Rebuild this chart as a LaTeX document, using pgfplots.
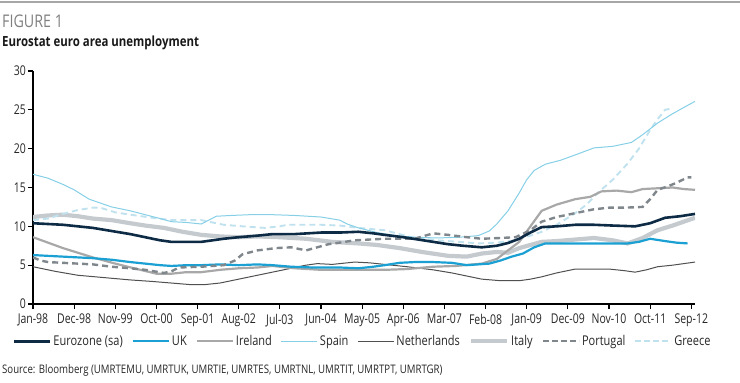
\documentclass[border=0pt]{standalone}
\usepackage{fontspec}
\setmainfont{Open Sans}[FakeStretch=0.82]
\newfontfamily\condfont{Open Sans}[FakeStretch=0.78]
\usepackage{pgfplots}
\pgfplotsset{compat=1.18}
\definecolor{cEZ}{HTML}{0D2B45}
\definecolor{cUK}{HTML}{1AA0D2}
\definecolor{cIE}{HTML}{A8A8A8}
\definecolor{cES}{HTML}{86CFE6}
\definecolor{cNL}{HTML}{505050}
\definecolor{cIT}{HTML}{C5CACF}
\definecolor{cPT}{HTML}{80878C}
\definecolor{cGR}{HTML}{C0E2EE}
\begin{document}
\begin{tikzpicture}[x=1bp,y=1bp]
\useasboundingbox (0,0) rectangle (740,382);
\draw[line width=2bp, color=black!35] (0,380) -- (740,380);
\node[anchor=west, inner sep=0pt, text=black!50, font=\fontsize{17.5}{19}\selectfont] at (2,361) {FIGURE 1};
\node[anchor=west, inner sep=0pt, text=black!90, font=\bfseries\fontsize{14}{16}\selectfont] at (2,339) {Eurostat euro area unemployment};
\begin{axis}[
  at={(33bp,78bp)}, anchor=south west,
  scale only axis, width=662bp, height=233bp,
  xmin=0, xmax=177, ymin=0, ymax=30,
  axis x line*=bottom, axis y line*=left,
  axis line style={line width=2bp, black, -},
  tick align=outside, major tick length=5bp,
  tick style={line width=1.2bp, black},
  xtick={0,11,...,176},
  xticklabels={Jan-98,Dec-98,Nov-99,Oct-00,Sep-01,Aug-02,Jul-03,Jun-04,May-05,Apr-06,Mar-07,Feb-08,Jan-09,Dec-09,Nov-10,Oct-11,Sep-12},
  ytick={0,5,...,30},
  /pgf/number format/assume math mode=true,
  ticklabel style={font=\condfont\fontsize{13.5}{15}\selectfont, text=black!85},
  xticklabel style={inner sep=1pt, yshift=-4bp},
  yticklabel style={inner sep=2pt},
  legend columns=8,
  legend style={draw=none, fill=none, at={(0.498,-0.16)}, anchor=center,
    font=\fontsize{13.5}{15}\selectfont, text=black!85,
    /tikz/every even column/.append style={column sep=7bp},
    /tikz/every odd column/.append style={column sep=0bp}},
  legend image code/.code={\draw[#1] (0bp,0bp) -- (36bp,0bp);},
  legend cell align=left,
]
% Italy (background)
\addplot[cIT, line width=4.2bp, forget plot] coordinates {
(0,11.2)(4,11.4)(8,11.5)(12,11.3)(16,11.0)(21,10.8)(26,10.4)(30,10.1)(35,9.8)(40,9.3)(45,8.9)(50,8.7)(55,8.6)(60,8.7)(66,8.6)(73,8.4)(80,8.0)(87,7.8)(92,7.6)(98,7.2)(104,6.7)(111,6.2)(116,6.1)(120,6.5)(124,6.7)(127,6.6)(130,7.2)(133,7.6)(136,8.0)(140,8.1)(145,8.3)(150,8.5)(155,8.2)(159,7.8)(163,8.5)(167,9.5)(171,10.1)(174,10.6)(177,11.1)};
% Greece
\addplot[cGR, line width=1.9bp, dash pattern=on 6bp off 4bp, forget plot] coordinates {
(0,10.8)(4,11.0)(8,11.6)(12,12.1)(16,12.4)(18,12.4)(22,11.8)(26,11.5)(32,11.1)(37,10.8)(42,10.8)(45,10.8)(51,10.2)(56,10.0)(62,9.8)(66,10.0)(68,10.2)(77,10.2)(82,10.1)(87,9.8)(94,9.5)(98,9.0)(102,8.5)(108,8.2)(114,8.0)(119,7.8)(124,7.9)(129,8.2)(133,8.8)(136,9.3)(140,10.2)(145,11.7)(148,12.8)(151,14.3)(155,16.0)(159,18.1)(162,20.0)(165,22.4)(167,23.8)(169,25.0)(171,25.2)};
% Spain
\addplot[cES, line width=1bp, forget plot] coordinates {
(0,16.7)(4,16.2)(8,15.4)(11,14.7)(15,13.5)(18,13.0)(21,12.5)(26,12.0)(30,11.5)(34,11.0)(37,10.6)(41,10.5)(45,10.3)(47,10.8)(49,11.3)(53,11.4)(58,11.5)(64,11.5)(70,11.4)(77,11.2)(82,10.8)(84,10.3)(87,9.8)(92,9.2)(97,8.8)(102,8.6)(108,8.5)(114,8.6)(119,8.8)(122,9.4)(124,10.3)(127,12.0)(130,14.3)(132,16.0)(134,17.2)(137,18.0)(141,18.5)(145,19.2)(150,20.1)(155,20.3)(160,20.8)(163,21.8)(167,23.3)(171,24.5)(174,25.3)(177,26.1)};
% Netherlands
\addplot[cNL, line width=1bp, forget plot] coordinates {
(0,4.8)(6,4.2)(12,3.7)(19,3.4)(26,3.1)(32,2.9)(37,2.7)(42,2.5)(46,2.5)(50,2.7)(55,3.2)(60,3.7)(65,4.2)(69,4.6)(73,5.0)(76,5.2)(80,5.1)(86,5.4)(90,5.3)(94,5.1)(100,4.8)(107,4.4)(112,4.0)(116,3.6)(120,3.2)(125,3.0)(130,3.0)(133,3.2)(136,3.5)(140,4.0)(145,4.5)(150,4.5)(154,4.5)(158,4.3)(161,4.1)(164,4.4)(167,4.8)(171,5.0)(174,5.2)(177,5.4)};
% Ireland
\addplot[cIE, line width=2.2bp, forget plot] coordinates {
(0,8.6)(4,7.9)(8,7.2)(12,6.6)(16,6.0)(22,5.2)(27,4.6)(33,3.9)(37,3.9)(41,4.1)(45,4.1)(50,4.4)(55,4.6)(60,4.7)(64,4.9)(70,4.6)(77,4.4)(82,4.4)(87,4.4)(94,4.4)(100,4.5)(107,4.8)(113,4.9)(120,5.2)(124,5.8)(127,6.9)(130,8.0)(133,10.0)(136,12.0)(140,12.8)(145,13.5)(149,13.8)(152,14.5)(156,14.6)(160,14.4)(163,14.8)(167,14.9)(171,15.0)(174,14.8)(177,14.7)};
% UK
\addplot[cUK, line width=2.2bp, forget plot] coordinates {
(0,6.3)(4,6.2)(8,6.1)(12,6.0)(16,5.9)(21,5.7)(26,5.4)(30,5.2)(34,5.0)(37,4.9)(41,5.0)(45,5.0)(50,5.1)(55,5.0)(60,5.1)(64,5.0)(69,4.8)(75,4.7)(82,4.7)(87,4.6)(91,4.8)(94,5.0)(98,5.3)(102,5.4)(107,5.4)(112,5.3)(116,5.0)(119,5.1)(122,5.2)(125,5.6)(128,6.1)(131,6.5)(134,7.3)(137,7.8)(141,7.8)(145,7.8)(150,7.8)(155,7.8)(159,7.8)(162,8.0)(165,8.4)(169,8.1)(172,7.9)(175,7.8)};
% Portugal
\addplot[cPT, line width=2.4bp, dash pattern=on 6bp off 4bp, forget plot] coordinates {
(0,6.0)(2,5.6)(4,5.4)(8,5.3)(12,5.2)(16,5.1)(21,4.8)(26,4.6)(30,4.4)(35,4.0)(37,4.2)(39,4.7)(45,4.8)(51,5.0)(54,5.6)(56,6.4)(60,6.9)(65,7.2)(69,7.3)(73,6.9)(79,7.7)(82,7.9)(86,8.2)(90,8.3)(94,8.4)(102,8.4)(107,9.1)(111,8.9)(116,8.6)(120,8.4)(125,8.5)(129,8.6)(133,9.5)(136,10.6)(140,11.2)(145,11.7)(150,12.2)(154,12.4)(158,12.4)(163,12.5)(165,13.5)(167,14.7)(170,15.2)(172,15.6)(175,16.3)(176,16.3)};
% Eurozone
\addplot[cEZ, line width=2.6bp, forget plot] coordinates {
(0,10.4)(4,10.3)(8,10.2)(12,10.0)(16,9.8)(21,9.4)(26,9.0)(30,8.6)(34,8.2)(37,8.0)(41,8.0)(45,8.0)(48,8.2)(51,8.4)(55,8.6)(60,8.8)(64,9.0)(70,9.0)(77,9.2)(82,9.2)(87,9.3)(91,9.1)(94,8.9)(99,8.6)(103,8.3)(107,8.0)(111,7.7)(115,7.5)(120,7.3)(124,7.5)(127,7.85)(130,8.4)(133,9.2)(136,9.9)(140,10.0)(145,10.2)(150,10.2)(155,10.1)(161,10.0)(165,10.4)(169,11.1)(173,11.3)(177,11.6)};
\addlegendimage{cEZ, line width=2.6bp}\addlegendentry{Eurozone (sa)}
\addlegendimage{cUK, line width=2.2bp}\addlegendentry{UK}
\addlegendimage{cIE, line width=2.2bp}\addlegendentry{Ireland}
\addlegendimage{cES, line width=1bp}\addlegendentry{Spain}
\addlegendimage{cNL, line width=1bp}\addlegendentry{Netherlands}
\addlegendimage{cIT, line width=4.2bp}\addlegendentry{Italy}
\addlegendimage{cPT, line width=2.4bp, dash pattern=on 6bp off 3bp}\addlegendentry{Portugal}
\addlegendimage{cGR, line width=1.9bp, dash pattern=on 6bp off 3bp}\addlegendentry{Greece}
\end{axis}
\node[anchor=west, inner sep=0pt, text=black!85, font=\fontsize{11.8}{13}\selectfont] at (2,12) {Source: Bloomberg (UMRTEMU, UMRTUK, UMRTIE, UMRTES, UMRTNL, UMRTIT, UMRTPT, UMRTGR)};
\end{tikzpicture}
\end{document}
